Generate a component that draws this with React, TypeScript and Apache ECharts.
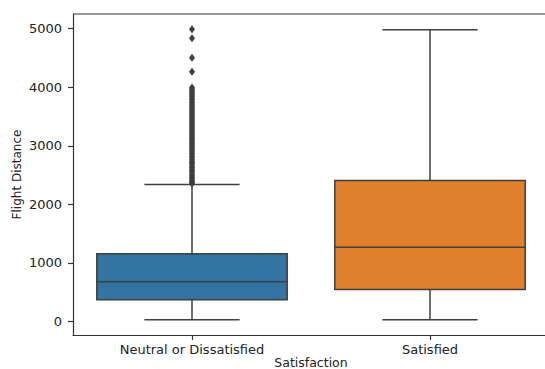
import React, { useEffect, useRef } from "react";
import * as echarts from "echarts";

const categories = ["Neutral or Dissatisfied", "Satisfied"];
// [min, Q1, median, Q3, max]
const boxStats = [
  [31, 370, 677, 1155, 2340],
  [31, 545, 1270, 2406, 4983],
];
const boxColors = ["#3274a1", "#e1812c"];
// outliers of "Neutral or Dissatisfied"
const outliersNeutral = [
  2352, 2370, 2388, 2410, 2440, 2465, 2490, 2520, 2547, 2575, 2600, 2630, 2655,
  2688, 2712, 2740, 2768, 2795, 2820, 2850, 2878, 2905, 2930, 2960, 2988, 3015,
  3042, 3070, 3098, 3125, 3150, 3180, 3208, 3235, 3262, 3290, 3318, 3345, 3372,
  3400, 3428, 3455, 3482, 3510, 3538, 3565, 3592, 3620, 3648, 3675, 3702, 3730,
  3758, 3785, 3812, 3840, 3868, 3895, 3922, 3950, 3975, 3995, 4266, 4505, 4836,
  4990,
];
const yTicks = [0, 1000, 2000, 3000, 4000, 5000];

const FONT = "DejaVu Sans";
const EDGE = "#3f3f3f";

export default function App() {
  const ref = useRef<HTMLDivElement>(null);
  useEffect(() => {
    if (!ref.current) return;
    const chart = echarts.init(ref.current, null, { renderer: "svg" });
    const boxData = boxStats.map((s, i) => [i, ...s]);
    chart.setOption({
      animation: false,
      backgroundColor: "#ffffff",
      grid: { left: 73, right: -4, top: 14, bottom: 34, containLabel: false, outerBoundsMode: "none" },
      xAxis: {
        type: "category",
        data: categories,
        boundaryGap: true,
        name: "Satisfaction",
        nameLocation: "middle",
        nameGap: 21,
        nameMoveOverlap: false,
        nameTextStyle: { fontFamily: FONT, fontSize: 12.5, color: "#222", verticalAlign: "top" },
        axisLine: { show: true, onZero: false, lineStyle: { color: "#333", width: 1.2 } },
        axisTick: { show: true, alignWithLabel: true, length: 5, lineStyle: { color: "#333", width: 1.2 } },
        axisLabel: { fontFamily: FONT, fontSize: 13, color: "#222", margin: 8 },
        splitLine: { show: false },
      },
      yAxis: {
        type: "value",
        min: -230,
        max: 5250,
        name: "Flight Distance",
        nameLocation: "middle",
        nameGap: 50,
        nameMoveOverlap: false,
        nameTextStyle: { fontFamily: FONT, fontSize: 12, color: "#222" },
        axisLine: { show: true, onZero: false, lineStyle: { color: "#333", width: 1.2 } },
        axisTick: { show: true, length: 5, customValues: yTicks, lineStyle: { color: "#333", width: 1.2 } },
        axisLabel: {
          fontFamily: FONT,
          fontSize: 13,
          color: "#222",
          margin: 11,
          customValues: yTicks,
          formatter: (v: number) => String(v),
        },
        splitLine: { show: false },
      },
      graphic: [
        {
          type: "line",
          shape: { x1: 73, y1: 14, x2: 549, y2: 14 },
          style: { stroke: "#333", lineWidth: 1.2 },
          z: 10,
        },
      ],
      series: [
        {
          type: "custom",
          data: boxData,
          encode: { x: 0, y: [1, 2, 3, 4, 5] },
          renderItem: (params: any, api: any) => {
            const c = api.value(0);
            const vmin = api.value(1);
            const q1 = api.value(2);
            const med = api.value(3);
            const q3 = api.value(4);
            const vmax = api.value(5);
            const band = api.size([1, 0])[0];
            const pMin = api.coord([c, vmin]);
            const pQ1 = api.coord([c, q1]);
            const pMed = api.coord([c, med]);
            const pQ3 = api.coord([c, q3]);
            const pMax = api.coord([c, vmax]);
            const cx = pMed[0];
            const hw = band * 0.4;
            const cw = band * 0.2;
            const ls = { stroke: EDGE, lineWidth: 1.5 };
            return {
              type: "group",
              children: [
                { type: "line", shape: { x1: cx, y1: pQ1[1], x2: cx, y2: pMin[1] }, style: ls },
                { type: "line", shape: { x1: cx, y1: pQ3[1], x2: cx, y2: pMax[1] }, style: ls },
                { type: "line", shape: { x1: cx - cw, y1: pMin[1], x2: cx + cw, y2: pMin[1] }, style: ls },
                { type: "line", shape: { x1: cx - cw, y1: pMax[1], x2: cx + cw, y2: pMax[1] }, style: ls },
                {
                  type: "rect",
                  shape: { x: cx - hw, y: pQ3[1], width: hw * 2, height: pQ1[1] - pQ3[1] },
                  style: { fill: boxColors[params.dataIndex], stroke: EDGE, lineWidth: 1.5 },
                },
                { type: "line", shape: { x1: cx - hw, y1: pMed[1], x2: cx + hw, y2: pMed[1] }, style: ls },
              ],
            };
          },
          z: 2,
        },
        {
          type: "scatter",
          data: outliersNeutral.map((v) => [0, v]),
          symbol: "diamond",
          symbolSize: [6, 8],
          itemStyle: { color: EDGE, opacity: 1 },
          z: 3,
        },
      ],
    });
    return () => chart.dispose();
  }, []);
  return (
    <div
      ref={ref}
      style={{ position: "fixed", left: 0, top: 0, width: 545, height: 369 }}
    />
  );
}
